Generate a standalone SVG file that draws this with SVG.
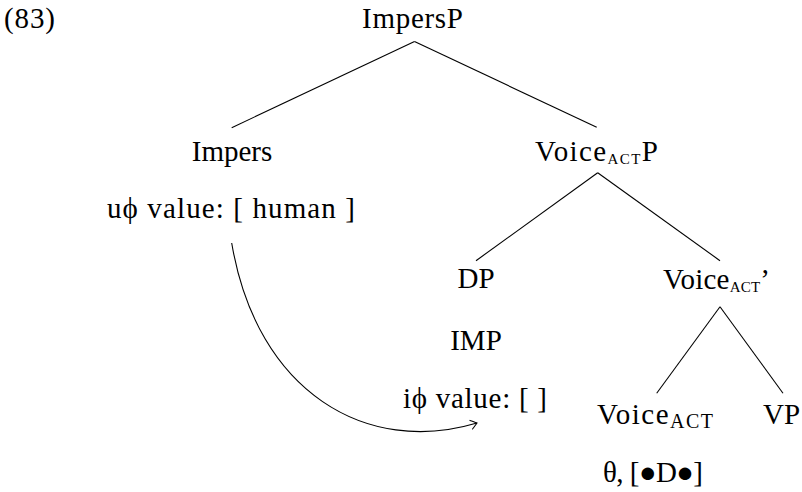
<svg xmlns="http://www.w3.org/2000/svg" width="802" height="492" viewBox="0 0 802 492">
<style>
text{font-family:'Liberation Serif','DejaVu Serif','Times New Roman',serif;font-size:29px;fill:#000}
.sc{font-size:15px}
.sub{font-size:20px}
.edge{stroke:#000;stroke-width:1.1;fill:none}
</style>
<defs>
<marker id="to" markerUnits="userSpaceOnUse" markerWidth="14" markerHeight="14" refX="0" refY="0" viewBox="-8 -7 10 14" orient="auto" overflow="visible">
<path d="M-6,-4.5 Q-1.5,-1.2 0,0 Q-1.5,1.2 -6,4.5" fill="none" stroke="#000" stroke-width="1.1" stroke-linecap="round"/>
</marker>
</defs>
<rect width="802" height="492" fill="#fff"/>
<g id="label"><text x="4" y="28" textLength="51">(83)</text></g>
<g id="n-imperspp"><text x="362" y="28" textLength="101">ImpersP</text></g>
<g id="n-impers">
<text x="232" y="161" text-anchor="middle">Impers</text>
<text x="107" y="218" textLength="248">uϕ value: [ human ]</text>
</g>
<g id="n-voiceactp"><text x="535" y="161" textLength="123">Voice<tspan class="sc" dy="3">ACT</tspan><tspan dy="-3">P</tspan></text></g>
<g id="n-dp">
<text x="476" y="288" text-anchor="middle">DP</text>
<text x="476" y="350" text-anchor="middle">IMP</text>
<text x="403" y="408" textLength="144">iϕ value: [ ]</text>
</g>
<g id="n-voicebar"><text x="663" y="289" textLength="107">Voice<tspan class="sc" dy="3">ACT</tspan><tspan dy="-3">’</tspan></text></g>
<g id="n-voiceact">
<text x="597" y="424" textLength="116">Voice<tspan class="sub" dy="4">ACT</tspan></text>
<text x="603" y="482" textLength="100">θ, [●D●]</text>
</g>
<g id="n-vp"><text x="763" y="424">VP</text></g>
<g id="connectors">
<line class="edge" x1="414.5" y1="41.5" x2="231.7" y2="127.7"/>
<line class="edge" x1="414.5" y1="41.5" x2="596.7" y2="127.3"/>
<line class="edge" x1="597.7" y1="172.7" x2="476" y2="260.7"/>
<line class="edge" x1="597.7" y1="172.7" x2="720" y2="260.7"/>
<line class="edge" x1="720" y1="306.7" x2="656.7" y2="393.3"/>
<line class="edge" x1="720" y1="306.7" x2="783" y2="393.3"/>
<path class="edge" d="M231.7,243 C257,393 367,456 477,423" marker-end="url(#to)"/>
</g>
</svg>
